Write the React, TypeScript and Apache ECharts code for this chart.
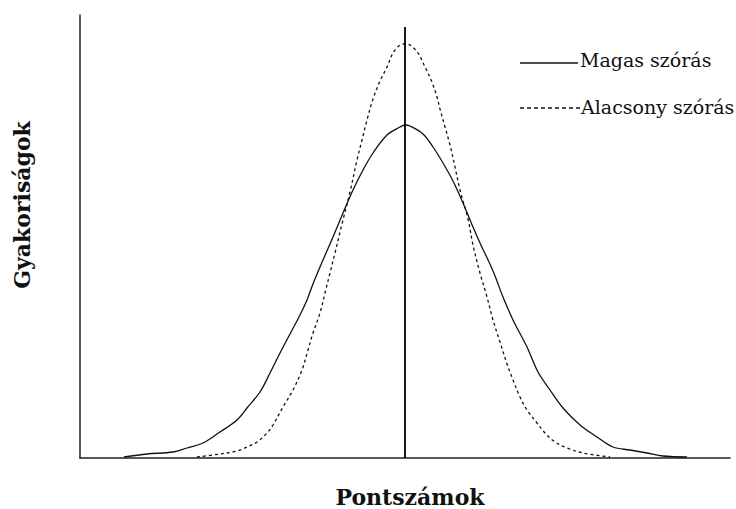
import React, { useEffect, useRef } from "react";
import * as echarts from "echarts";

// Score positions (x) and frequency heights (y)
const highX = [44, 67, 93, 107, 123, 140, 157, 167, 180, 190, 200, 210, 220, 227, 233, 243, 253, 263, 273, 283, 293, 307, 320, 325, 330, 343, 353, 363, 373, 383, 393, 400, 413, 423, 433, 447, 458, 470, 483, 500, 517, 533, 550, 567, 583, 607];
const highY = [1, 4, 6, 10, 15, 26, 38, 50, 66, 85, 105, 124, 143, 158, 174, 198, 221, 245, 268, 288, 305, 323, 331, 333, 332, 324, 311, 295, 277, 255, 231, 215, 187, 161, 138, 111, 86, 68, 50, 33, 21, 11, 8, 5, 2, 1];

const lowX = [117, 140, 157, 167, 177, 187, 193, 203, 213, 222, 228, 233, 240, 245, 250, 255, 262, 270, 277, 282, 287, 293, 300, 307, 313, 320, 325, 330, 338, 345, 352, 357, 360, 365, 370, 375, 380, 388, 393, 400, 407, 413, 420, 427, 433, 440, 447, 457, 465, 475, 487, 503, 530];
const lowY = [1, 4, 7, 11, 16, 25, 33, 51, 68, 88, 108, 125, 145, 165, 185, 205, 234, 266, 298, 318, 338, 359, 377, 391, 405, 413, 414, 413, 405, 391, 376, 361, 349, 331, 313, 291, 268, 239, 213, 185, 161, 138, 116, 94, 78, 61, 48, 35, 25, 16, 10, 5, 1];

const meanX = [325, 325];
const meanY = [0, 431];

const seriesNames = ["Magas szórás", "Alacsony szórás"];
const xTitle = "Pontszámok";
const yTitle = "Gyakoriságok";

const zip = (xs: number[], ys: number[]) => xs.map((x, i) => [x, ys[i]]);

export default function App() {
  const ref = useRef<HTMLDivElement>(null);
  useEffect(() => {
    if (!ref.current) return;
    const chart = echarts.init(ref.current, undefined, { renderer: "svg" });
    const font = "'DejaVu Serif', 'Liberation Serif', serif";
    chart.setOption({
      animation: false,
      backgroundColor: "#ffffff",
      grid: { left: 80, right: 6, top: 15, bottom: 51 },
      xAxis: {
        type: "value",
        min: 0,
        max: 650,
        axisLine: { show: true, onZero: false, lineStyle: { color: "#222", width: 1.5 } },
        axisTick: { show: false },
        axisLabel: { show: false },
        splitLine: { show: false },
      },
      yAxis: {
        type: "value",
        min: 0,
        max: 443,
        axisLine: { show: true, lineStyle: { color: "#222", width: 1.5 } },
        axisTick: { show: false },
        axisLabel: { show: false },
        splitLine: { show: false },
      },
      series: [
        {
          name: seriesNames[0],
          type: "line",
          data: zip(highX, highY),
          smooth: 0.35,
          showSymbol: false,
          lineStyle: { color: "#111", width: 1.3 },
        },
        {
          name: seriesNames[1],
          type: "line",
          data: zip(lowX, lowY),
          smooth: 0.35,
          showSymbol: false,
          lineStyle: { color: "#111", width: 1.3, type: [3, 3] },
        },
        {
          name: "mean",
          type: "line",
          data: zip(meanX, meanY),
          showSymbol: false,
          lineStyle: { color: "#000", width: 1.8 },
        },
      ],
      graphic: [
        { type: "line", shape: { x1: 520, y1: 63, x2: 578, y2: 63 }, style: { stroke: "#111", lineWidth: 1.3 } },
        {
          type: "text",
          x: 580,
          y: 60,
          style: { text: seriesNames[0], font: `19px ${font}`, fill: "#111", verticalAlign: "middle", align: "left" },
        },
        {
          type: "line",
          shape: { x1: 520, y1: 108, x2: 580, y2: 108 },
          style: { stroke: "#111", lineWidth: 1.3, lineDash: [4, 3] },
        },
        {
          type: "text",
          x: 581,
          y: 107,
          style: { text: seriesNames[1], font: `19px ${font}`, fill: "#111", verticalAlign: "middle", align: "left" },
        },
        {
          type: "text",
          x: 410,
          y: 497,
          style: { text: xTitle, font: `bold 22px ${font}`, fill: "#111", verticalAlign: "middle", align: "center" },
        },
        {
          type: "text",
          x: 22,
          y: 205,
          rotation: Math.PI / 2,
          style: { text: yTitle, font: `bold 22px ${font}`, fill: "#111", verticalAlign: "middle", align: "center" },
        },
      ],
    });
    return () => chart.dispose();
  }, []);
  return <div ref={ref} style={{ position: "fixed", left: 0, top: 0, width: 736, height: 509 }} />;
}
